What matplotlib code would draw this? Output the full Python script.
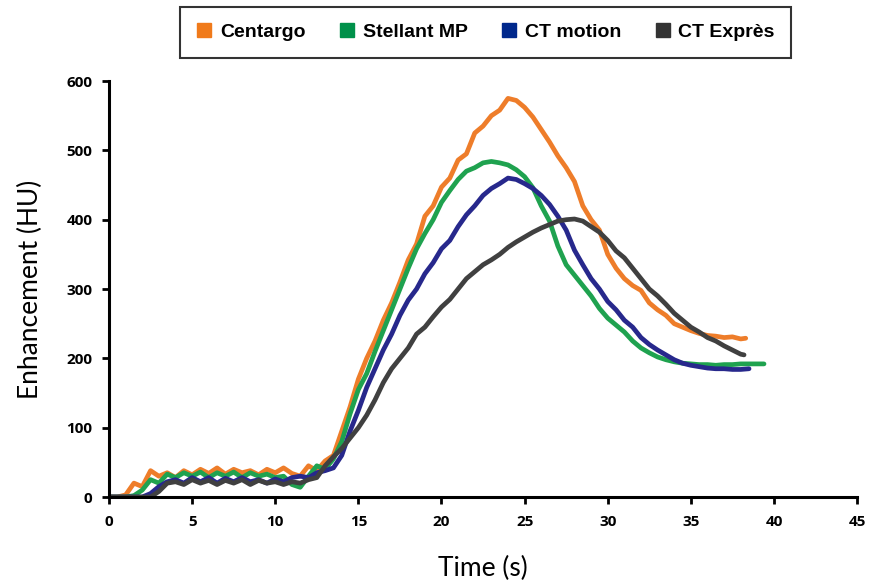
import matplotlib
matplotlib.use("Agg")
import matplotlib.pyplot as plt
from matplotlib.lines import Line2D

# Centargo
t_cen = [0, 0.5, 1, 1.5, 2, 2.5, 3, 3.5, 4, 4.5, 5, 5.5, 6, 6.5, 7, 7.5, 8, 8.5, 9, 9.5,
         10, 10.5, 11, 11.5, 12, 12.5, 13, 13.5, 14, 14.5, 15, 15.5, 16, 16.5, 17, 17.5,
         18, 18.5, 19, 19.5, 20, 20.5, 21, 21.5, 22, 22.5, 23, 23.5, 24, 24.5, 25, 25.5,
         26, 26.5, 27, 27.5, 28, 28.5, 29, 29.5, 30, 30.5, 31, 31.5, 32, 32.5, 33, 33.5,
         34, 34.5, 35, 35.5, 36, 36.5, 37, 37.5, 38, 38.3]
v_cen = [0, 0, 3, 20, 15, 38, 30, 35, 28, 38, 32, 40, 34, 42, 33, 40, 35, 38, 32, 40,
         35, 42, 34, 30, 45, 38, 52, 60, 95, 130, 170, 200, 225, 255, 280, 310,
         342, 365, 405, 420, 447, 460, 486, 495, 525, 535, 550, 558, 575, 572, 562, 548,
         530, 512, 492, 475, 455, 420, 400, 385, 350, 330, 315, 305, 298, 280, 270, 262,
         250, 245, 240, 236, 233, 232, 230, 231, 228, 229]

# Stellant MP
t_ste = [0, 0.5, 1, 1.5, 2, 2.5, 3, 3.5, 4, 4.5, 5, 5.5, 6, 6.5, 7, 7.5, 8, 8.5, 9, 9.5,
         10, 10.5, 11, 11.5, 12, 12.5, 13, 13.5, 14, 14.5, 15, 15.5, 16, 16.5, 17, 17.5,
         18, 18.5, 19, 19.5, 20, 20.5, 21, 21.5, 22, 22.5, 23, 23.5, 24, 24.5, 25, 25.5,
         26, 26.5, 27, 27.5, 28, 28.5, 29, 29.5, 30, 30.5, 31, 31.5, 32, 32.5, 33, 33.5,
         34, 34.5, 35, 35.5, 36, 36.5, 37, 37.5, 38, 38.5, 39, 39.4]
v_ste = [0, 0, 0, 2, 10, 25, 20, 33, 28, 35, 30, 36, 28, 35, 30, 36, 28, 35, 30, 33,
         28, 30, 18, 14, 30, 45, 40, 55, 80, 120, 155, 178, 210, 240, 270, 300,
         330, 358, 380, 400, 425, 442, 458, 470, 475, 482, 484, 482, 479, 472, 462, 446,
         420, 398, 362, 335, 320, 305, 290, 272, 258, 248, 238, 225, 215, 208, 202, 198,
         195, 193, 192, 191, 191, 190, 191, 191, 192, 192, 192, 192]

# CT motion
t_mot = [0, 0.5, 1, 1.5, 2, 2.5, 3, 3.5, 4, 4.5, 5, 5.5, 6, 6.5, 7, 7.5, 8, 8.5, 9, 9.5,
         10, 10.5, 11, 11.5, 12, 12.5, 13, 13.5, 14, 14.5, 15, 15.5, 16, 16.5, 17, 17.5,
         18, 18.5, 19, 19.5, 20, 20.5, 21, 21.5, 22, 22.5, 23, 23.5, 24, 24.5, 25, 25.5,
         26, 26.5, 27, 27.5, 28, 28.5, 29, 29.5, 30, 30.5, 31, 31.5, 32, 32.5, 33, 33.5,
         34, 34.5, 35, 35.5, 36, 36.5, 37, 37.5, 38, 38.5]
v_mot = [0, 0, 0, 0, 0, 5, 15, 22, 25, 20, 28, 22, 28, 20, 27, 22, 28, 22, 25, 20,
         26, 22, 28, 30, 28, 35, 38, 42, 60, 95, 125, 158, 185, 212, 235, 262,
         284, 300, 322, 338, 358, 370, 390, 407, 420, 435, 445, 452, 460, 458, 452, 445,
         435, 422, 405, 385, 356, 335, 315, 300, 282, 270, 255, 245, 230, 220, 212, 205,
         198, 193, 190, 188, 186, 185, 185, 184, 184, 185]

# CT Exprès
t_exp = [0, 0.5, 1, 1.5, 2, 2.5, 3, 3.5, 4, 4.5, 5, 5.5, 6, 6.5, 7, 7.5, 8, 8.5, 9, 9.5,
         10, 10.5, 11, 11.5, 12, 12.5, 13, 13.5, 14, 14.5, 15, 15.5, 16, 16.5, 17, 17.5,
         18, 18.5, 19, 19.5, 20, 20.5, 21, 21.5, 22, 22.5, 23, 23.5, 24, 24.5, 25, 25.5,
         26, 26.5, 27, 27.5, 28, 28.5, 29, 29.5, 30, 30.5, 31, 31.5, 32, 32.5, 33, 33.5,
         34, 34.5, 35, 35.5, 36, 36.5, 37, 37.5, 38, 38.2]
v_exp = [0, 0, 0, 0, 0, 0, 8, 20, 22, 18, 25, 20, 24, 18, 24, 20, 25, 18, 24, 20,
         22, 18, 22, 20, 25, 28, 45, 58, 70, 85, 100, 118, 140, 165, 185, 200,
         215, 235, 245, 260, 274, 285, 300, 315, 325, 335, 342, 350, 360, 368, 375, 382,
         388, 393, 398, 400, 401, 398, 390, 382, 370, 355, 345, 330, 315, 300, 290, 278,
         265, 255, 245, 238, 230, 225, 218, 212, 206, 205]

names = ["Centargo", "Stellant MP", "CT motion", "CT Exprès"]
line_colors = ["#EE7D2A", "#1FA24F", "#27288C", "#404040"]
legend_colors = ["#F07A1A", "#00914A", "#00288C", "#333333"]

fig = plt.figure(figsize=(8.77, 5.83), dpi=100)
ax = fig.add_axes([0.1243, 0.1475, 0.853, 0.7135])

series = [(t_cen, v_cen), (t_ste, v_ste), (t_mot, v_mot), (t_exp, v_exp)]
for (t, v), c in zip(series, line_colors):
    ax.plot(t, v, color=c, lw=3.4, solid_joinstyle="round", solid_capstyle="round")

ax.set_xlim(0, 45)
ax.set_ylim(0, 600)
ax.set_xticks(range(0, 46, 5))
ax.set_yticks(range(0, 601, 100))
for s in ["top", "right"]:
    ax.spines[s].set_visible(False)
for s in ["left", "bottom"]:
    ax.spines[s].set_linewidth(2.2)
ax.tick_params(width=2, length=5, direction="out")
ax.tick_params(axis="x", pad=8)
ax.tick_params(axis="y", pad=7)
for lab in ax.get_xticklabels() + ax.get_yticklabels():
    lab.set_fontfamily("Open Sans")
    lab.set_fontweight("bold")
    lab.set_fontsize(11)

ax.set_xlabel("Time (s)", fontsize=19, family="Lato", labelpad=19)
ax.set_ylabel("Enhancement (HU)", fontsize=19, family="Lato", labelpad=17)

handles = [Line2D([], [], ls="", marker="s", markersize=9.5, color=c) for c in legend_colors]
leg = fig.legend(handles, names, loc="upper left", bbox_to_anchor=(0.2052, 0.988, 0.697, 0.0),
                 mode="expand", ncol=4, frameon=True, fancybox=False, edgecolor="black",
                 prop={"family": "Liberation Sans", "weight": "bold", "size": 14},
                 handletextpad=0.4, borderpad=0.85, borderaxespad=0, handlelength=0.8)
leg.get_frame().set_linewidth(1.5)

fig.savefig("out.png", dpi=100)
